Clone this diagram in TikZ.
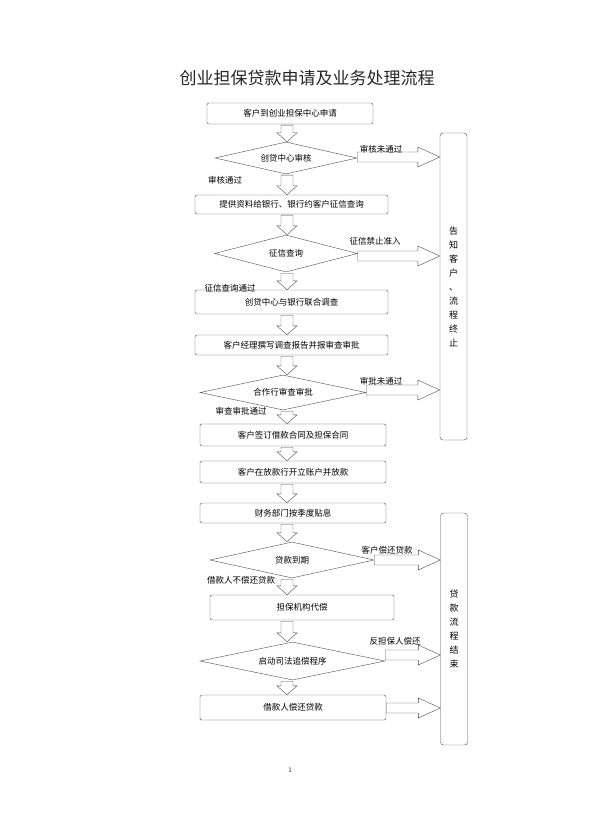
\documentclass[tikz,border=0pt]{standalone}
\usepackage{fontspec}
\newfontfamily\cjk{Noto Sans CJK SC}
\usetikzlibrary{shapes.geometric,calc}
\tikzset{
  stepbox/.style={draw=black!70, rounded corners=2pt, minimum height=20pt, font=\cjk\fontsize{8.5}{10}\selectfont},
  decide/.style={draw=black!70, diamond, aspect=4, inner sep=0pt, font=\cjk\fontsize{8.5}{10}\selectfont},
  sidebox/.style={draw=black!70, rounded corners=3pt, minimum width=27pt, font=\cjk\fontsize{9}{14}\selectfont, align=center},
  note/.style={font=\cjk\fontsize{8.5}{10}\selectfont},
  fatline/.style={draw=black!70, fill=white}
}
\newcommand\downarr[2]{\draw[fatline] let \p1=(#1.south), \p2=(#2.north) in
  (287pt-6pt,\y1-1pt) -- (287pt+6pt,\y1-1pt) -- (287pt+6pt,\y2+9pt) -- (287pt+10pt,\y2+9pt)
  -- (287pt,\y2) -- (287pt-10pt,\y2+9pt) -- (287pt-6pt,\y2+9pt) -- cycle;}
\newcommand\rightarr[3]{\draw[fatline] let \p1=(#1), \p2=(#2) in
  (\x1,#3+5pt) -- (\x2-22pt,#3+5pt) -- (\x2-22pt,#3+10pt) -- (\x2,#3) -- (\x2-22pt,#3-10pt)
  -- (\x2-22pt,#3-5pt) -- (\x1,#3-5pt) -- cycle;}
\begin{document}
\begin{tikzpicture}[x=1pt,y=-1pt]
\useasboundingbox (0,0) rectangle (606,834);
\node[font=\cjk\fontsize{17}{20}\selectfont, text=black!85] (title) at (307,78) {创业担保贷款申请及业务处理流程};
% main column
\node[stepbox, minimum width=166pt, minimum height=21pt] (apply) at (290,113.5) {客户到创业担保中心申请};
\node[decide, minimum width=142pt, minimum height=32pt] (audit) at (286,158) {创贷中心审核};
\node[stepbox, minimum width=193pt, minimum height=19pt] (provide) at (291.5,204.5) {提供资料给银行、银行约客户征信查询};
\node[decide, minimum width=143pt, minimum height=37pt] (credit) at (286,253.5) {征信查询};
\node[stepbox, minimum width=193pt, minimum height=24pt] (survey) at (291.5,302) {创贷中心与银行联合调查};
\node[stepbox, minimum width=193pt] (report) at (291.5,345) {客户经理撰写调查报告并报审查审批};
\node[decide, minimum width=166pt, minimum height=35pt] (approve) at (283,392.5) {合作行审查审批};
\node[stepbox, minimum width=186pt, minimum height=22pt] (sign) at (293,435) {客户签订借款合同及担保合同};
\node[stepbox, minimum width=186pt, minimum height=22pt] (loan) at (293,472) {客户在放款行开立账户并放款};
\node[stepbox, minimum width=186pt] (subsidy) at (293,513) {财务部门按季度贴息};
\node[decide, minimum width=164pt, minimum height=36pt] (due) at (292,560) {贷款到期};
\node[stepbox, minimum width=184pt, minimum height=25pt] (guar) at (302,607.5) {担保机构代偿};
\node[decide, minimum width=185pt, minimum height=38pt] (court) at (292.5,661) {启动司法追偿程序};
\node[stepbox, minimum width=186pt, minimum height=25pt] (repay) at (293,707.5) {借款人偿还贷款};
% side boxes
\node[sidebox, minimum height=307pt] (stop) at (453.5,286.5) {告\\知\\客\\户\\、\\流\\程\\终\\止};
\node[sidebox, minimum height=232pt] (done) at (454,629) {贷\\款\\流\\程\\结\\束};
% down arrows
\downarr{apply}{audit}
\downarr{audit}{provide}
\downarr{provide}{credit}
\downarr{credit}{survey}
\downarr{survey}{report}
\downarr{report}{approve}
\downarr{approve}{sign}
\downarr{sign}{loan}
\downarr{loan}{subsidy}
\downarr{subsidy}{due}
\downarr{due}{guar}
\downarr{guar}{court}
\downarr{court}{repay}
% right arrows
\rightarr{audit.east}{stop.west}{-157pt}
\rightarr{credit.east}{stop.west}{-256pt}
\rightarr{approve.east}{stop.west}{-390pt}
\rightarr{due.east}{done.west}{-560pt}
\rightarr{court.east}{done.west}{-655pt}
\rightarr{repay.east}{done.west}{-708pt}
% labels
\node[note] (l1) at (381,149) {审核未通过};
\node[note] (l2) at (225,180) {审核通过};
\node[note] (l3) at (375,241) {征信禁止准入};
\node[note] (l4) at (230,288) {征信查询通过};
\node[note] (l5) at (381,381) {审批未通过};
\node[note] (l6) at (241,411) {审查审批通过};
\node[note] (l7) at (387,550) {客户偿还贷款};
\node[note] (l8) at (241,580) {借款人不偿还贷款};
\node[note] (l9) at (395,641) {反担保人偿还};
\node[font=\fontsize{7}{8}\selectfont] (page) at (290,770) {1};
\end{tikzpicture}
\end{document}
